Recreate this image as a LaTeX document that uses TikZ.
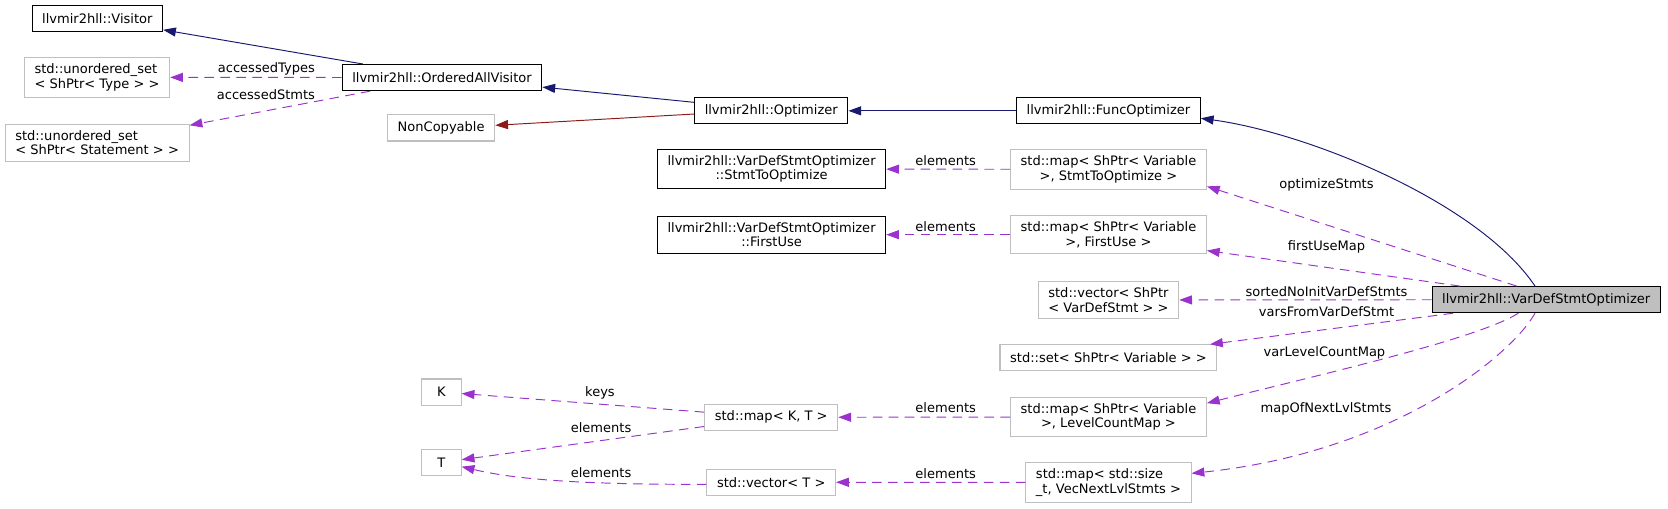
\documentclass[tikz,border=0pt]{standalone}
\usepackage{fontspec}
\setmainfont{DejaVu Sans}
\definecolor{dgNavy}{RGB}{25,25,112}
\definecolor{dgRed}{RGB}{139,26,26}
\definecolor{dgPurple}{RGB}{154,50,205}
\definecolor{dgGrey}{RGB}{191,191,191}
\usetikzlibrary{arrows.meta,calc}

\begin{document}
\begin{tikzpicture}[x=1pt, y=-1pt,
    cls/.style={rectangle, draw=black, line width=1pt, font=\fontsize{12.25}{13.5}\selectfont,
                minimum height=24.5pt, inner xsep=9.5pt, inner ysep=6pt, align=center},
    ext/.style={cls, draw=dgGrey},
    inh/.style={draw=dgNavy, line width=0.9pt, -{Triangle[length=12pt,width=8.5pt]}},
    priv/.style={inh, draw=dgRed},
    use/.style={draw=dgPurple, line width=0.9pt, dash pattern=on 9pt off 6pt,
                -{Triangle[length=12pt,width=8.5pt]}},
    lbl/.style={font=\fontsize{12.25}{13.5}\selectfont, inner sep=0pt}
  ]
  \useasboundingbox (0,0) rectangle (1568,478);

  \node[cls]
    (vis) at (91.5,17.5) {llvmir2hll::Visitor};
  \node[ext, align=left]
    (uT) at (91.2,72.7) {std::unordered\_set\\< ShPtr< Type > >};
  \node[ext, align=left]
    (uS) at (91.3,134.2) {std::unordered\_set\\< ShPtr< Statement > >};
  \node[cls]
    (oav) at (415.5,72.9) {llvmir2hll::OrderedAllVisitor};
  \node[ext]
    (nc) at (414.7,120.3) {NonCopyable};
  \node[cls]
    (opt) at (725,104.2) {llvmir2hll::Optimizer};
  \node[cls]
    (fo) at (1042,104.2) {llvmir2hll::FuncOptimizer};
  \node[cls]
    (sto) at (725.3,158.9) {llvmir2hll::VarDefStmtOptimizer\\::StmtToOptimize};
  \node[ext]
    (msto) at (1042,159.2) {std::map< ShPtr< Variable\\>, StmtToOptimize >};
  \node[cls]
    (fu) at (725.3,220.6) {llvmir2hll::VarDefStmtOptimizer\\::FirstUse};
  \node[ext]
    (mfu) at (1042,220.6) {std::map< ShPtr< Variable\\>, FirstUse >};
  \node[ext, align=left]
    (vvd) at (1042,282) {std::vector< ShPtr\\< VarDefStmt > >};
  \node[cls, fill=dgGrey]
    (vdso) at (1453.5,281.7) {llvmir2hll::VarDefStmtOptimizer};
  \node[ext]
    (sv) at (1042,336.4) {std::set< ShPtr< Variable > >};
  \node[ext, minimum width=37pt]
    (K) at (415,368.5) {K};
  \node[ext]
    (mKT) at (725,392.3) {std::map< K, T >};
  \node[ext]
    (mlc) at (1042,392) {std::map< ShPtr< Variable\\>, LevelCountMap >};
  \node[ext, minimum width=37pt]
    (T) at (415,434.7) {T};
  \node[ext]
    (vT) at (725,453.3) {std::vector< T >};
  \node[ext, align=left]
    (mst) at (1042,453.6) {std::map< std::size\\\_t, VecNextLvlStmts >};

  \draw[inh] (oav) -- (vis);
  \draw[inh] ($(opt.west)+(0,-8)$) -- ($(oav.east)+(0,9)$);
  \draw[priv] ($(opt.west)+(0,3)$) -- ($(nc.east)+(0,-2.5)$);
  \draw[inh] (fo) -- (opt);
  \draw[inh] ($(vdso.north)+(-10.5,0)$) .. controls (1390,190) and (1230,125) .. ($(fo.east)+(0,7)$);

  \draw[use] (oav) -- (uT);
  \draw[use] (oav) -- (uS);
  \draw[use] (msto) -- (sto);
  \draw[use] (mfu) -- (fu);
  \draw[use] ($(vdso.north)+(-27.7,0)$) -- ($(msto.east)+(0,16)$);
  \draw[use] ($(vdso.north)+(-81,0)$) -- ($(mfu.east)+(0,15)$);
  \draw[use] (vdso) -- (vvd);
  \draw[use] ($(vdso.south)+(-87.5,0)$) -- ($(sv.north east)+(-7,0)$);
  \draw[use] ($(vdso.south)+(-26.2,0)$) .. controls (1390,318) and (1250,350) .. ($(mlc.east)+(0,-13)$);
  \draw[use] ($(vdso.south)+(-10.5,0)$) .. controls (1420,335) and (1310,425) .. ($(mst.east)+(0,-8.6)$);
  \draw[use] (mKT) -- (K);
  \draw[use] (mKT) -- (T);
  \draw[use] ($(vT.west)+(0,2)$) .. controls (560,455.5) and (490,452) .. ($(T.east)+(0,4)$);
  \draw[use] (mlc) -- (mKT);
  \draw[use] (mst) -- (vT);

  \node[lbl] (lTypes) at (250.4,64.9) {accessedTypes};
  \node[lbl] (lStmts) at (250,89) {accessedStmts};
  \node[lbl] (lEl1) at (889,151) {elements};
  \node[lbl] (lEl2) at (889,213) {elements};
  \node[lbl] (lOpt) at (1247,174) {optimizeStmts};
  \node[lbl] (lFirst) at (1247,232) {firstUseMap};
  \node[lbl] (lSorted) at (1247,274) {sortedNoInitVarDefStmts};
  \node[lbl] (lVars) at (1247,293) {varsFromVarDefStmt};
  \node[lbl] (lLevel) at (1245,331.5) {varLevelCountMap};
  \node[lbl] (lNext) at (1246.5,384) {mapOfNextLvlStmts};
  \node[lbl] (lKeys) at (564,369) {keys};
  \node[lbl] (lEl3) at (565,401.7) {elements};
  \node[lbl] (lEl4) at (565,444.4) {elements};
  \node[lbl] (lEl5) at (889,383.6) {elements};
  \node[lbl] (lEl6) at (889,445.6) {elements};
\end{tikzpicture}
\end{document}
